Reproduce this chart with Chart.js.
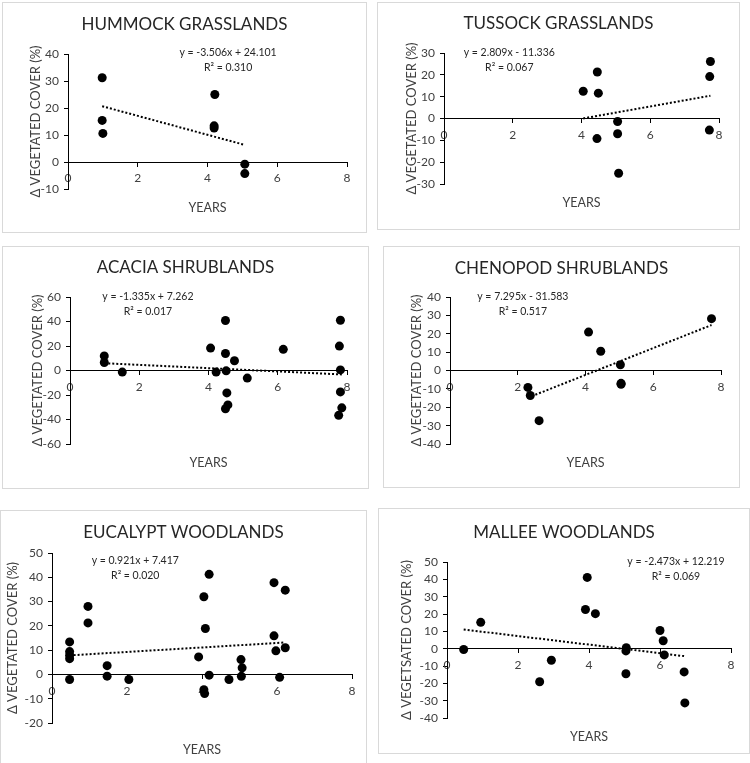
<!DOCTYPE html>
<html>
<head>
<meta charset="utf-8">
<script src="https://cdn.jsdelivr.net/npm/chart.js@4.4.1/dist/chart.umd.min.js"></script>
<style>
  html, body { margin: 0; padding: 0; background: #fff; }
  body { width: 750px; height: 763px; position: relative; overflow: hidden; }
  .panel { position: absolute; box-sizing: border-box; border: 1px solid #d9d9d9; background: #fff; }
  .panel canvas { display: block; }
</style>
</head>
<body>
<script>
// chart titles and axis labels
const titles = ['HUMMOCK GRASSLANDS', 'TUSSOCK GRASSLANDS', 'ACACIA SHRUBLANDS',
  'CHENOPOD SHRUBLANDS', 'EUCALYPT WOODLANDS', 'MALLEE WOODLANDS'];
const yTitles = ['Δ VEGETATED COVER (%)', 'Δ VEGETATED COVER (%)', 'Δ VEGETATED COVER (%)',
  'Δ VEGETATED COVER (%)', 'Δ VEGETATED COVER (%)', 'Δ VEGETSATED COVER (%)'];
const xTitle = 'YEARS';

// axis ticks
const xTicks = [0, 2, 4, 6, 8];
const yMin = [-10, -30, -60, -40, -20, -40];
const yMax = [40, 30, 60, 40, 50, 50];
const yStep = [10, 10, 20, 10, 10, 10];

// trendline equations shown on each chart
const slopes = [-3.506, 2.809, -1.335, 7.295, 0.921, -2.473];
const intercepts = [24.101, -11.336, 7.262, -31.583, 7.417, 12.219];
const rSquared = ['0.310', '0.067', '0.017', '0.517', '0.020', '0.069'];

// points: years vs change in vegetated cover
const hummockYears = [0.98, 0.98, 1.0, 4.21, 4.19, 4.19, 5.07, 5.07];
const hummockCover = [31.2, 15.4, 10.6, 25.0, 13.4, 12.6, -0.8, -4.3];

const tussockYears = [4.05, 4.46, 4.49, 4.45, 5.05, 5.05, 5.08, 7.75, 7.73, 7.72];
const tussockCover = [12.5, 21.3, 11.6, -9.2, -1.4, -7.0, -25.1, 26.1, 19.2, -5.3];

const acaciaYears = [0.99, 0.99, 1.51, 4.06, 4.22, 4.49, 4.49, 4.51, 4.75, 4.53,
  4.56, 4.49, 5.12, 6.16, 7.81, 7.78, 7.81, 7.81, 7.85, 7.76];
const acaciaCover = [11.9, 6.5, -1.3, 18.3, -1.3, 40.8, 13.9, -0.3, 8.0, -18.3,
  -28.1, -31.2, -6.2, 17.3, 41.0, 19.9, 0.5, -17.5, -30.5, -36.6];

const chenopodYears = [2.30, 2.37, 2.63, 4.09, 4.45, 5.03, 5.05, 5.05, 7.72];
const chenopodCover = [-9.2, -13.6, -27.3, 20.9, 10.5, 3.1, -7.0, -7.5, 28.2];

const eucalyptYears = [0.47, 0.47, 0.47, 0.47, 0.47, 0.96, 0.96, 1.47, 1.47, 2.05,
  3.91, 4.05, 4.09, 4.19, 4.05, 4.07, 4.19, 4.72, 5.04, 5.07, 5.05,
  5.92, 5.92, 5.97, 6.07, 6.22, 6.22];
const eucalyptCover = [13.4, 9.4, 7.9, 6.5, -2.1, 28.0, 21.2, 3.6, -0.7, -2.1,
  7.2, 32.0, 18.9, 41.2, -6.3, -7.9, -0.3, -2.1, 6.1, 2.7, -0.8,
  37.8, 15.9, 9.7, -1.2, 34.7, 11.0];

const malleeYears = [0.47, 0.95, 2.61, 2.94, 3.90, 3.95, 4.18, 5.05, 5.04, 5.04,
  6.0, 6.09, 6.12, 6.68, 6.70];
const malleeCover = [-0.5, 15.2, -19.1, -6.7, 22.6, 41.1, 20.2, 0.6, -1.3, -14.5,
  10.5, 4.6, -3.6, -13.4, -31.3];

const seriesYears = [hummockYears, tussockYears, acaciaYears, chenopodYears, eucalyptYears, malleeYears];
const seriesCover = [hummockCover, tussockCover, acaciaCover, chenopodCover, eucalyptCover, malleeCover];

// page layout (pixels): panel box, plot area, title / axis title centres, equation anchor (data units)
const panels = [
  { box: [2, 2, 365, 231],   plot: [68, 54, 347, 197],   titleY: 25,  yTitleX: 36,  xTitleY: 208, eq: [4.59, 40.7] },
  { box: [377, 2, 363, 228], plot: [444, 53, 719, 192],  titleY: 24,  yTitleX: 412, xTitleY: 203, eq: [1.9, 30] },
  { box: [2, 246, 367, 243], plot: [70, 297, 347, 452],  titleY: 268, yTitleX: 38,  xTitleY: 463, eq: [2.25, 60] },
  { box: [383, 246, 357, 242], plot: [450, 297, 721, 452], titleY: 269, yTitleX: 417, xTitleY: 463, eq: [2.15, 40] },
  { box: [0, 510, 367, 254], plot: [52, 553, 352, 731],  titleY: 533, yTitleX: 13,  xTitleY: 750, eq: [2.22, 46.7] },
  { box: [378, 508, 372, 246], plot: [447, 562, 731, 726], titleY: 533, yTitleX: 407, xTitleY: 737, eq: [6.45, 50] }
];

const TITLE_SIZE = 17;
const Y_TITLE_SIZE = 13;
const X_TITLE_SIZE = 12.5;
const TICK_SIZE = 12;
const EQ_SIZE = 10.5;

Chart.defaults.font.family = 'Lato';
Chart.defaults.color = '#404040';

const trendLabel = {
  id: 'trendLabel',
  afterDatasetsDraw(chart, args, opts) {
    const { ctx, scales: { x, y } } = chart;
    const px = x.getPixelForValue(opts.at[0]);
    const py = y.getPixelForValue(opts.at[1]);
    ctx.save();
    ctx.font = EQ_SIZE + 'px Lato';
    ctx.fillStyle = '#262626';
    ctx.textAlign = 'center';
    ctx.textBaseline = 'middle';
    ctx.fillText(opts.lines[0], px, py);
    ctx.fillText(opts.lines[1], px, py + 15);
    ctx.restore();
  }
};

function equationText(i) {
  const b = intercepts[i];
  return 'y = ' + slopes[i].toFixed(3) + 'x ' + (b < 0 ? '- ' : '+ ') + Math.abs(b).toFixed(3);
}

panels.forEach((p, i) => {
  const div = document.createElement('div');
  div.className = 'panel';
  div.style.left = p.box[0] + 'px';
  div.style.top = p.box[1] + 'px';
  div.style.width = p.box[2] + 'px';
  div.style.height = p.box[3] + 'px';
  const canvas = document.createElement('canvas');
  const w = p.box[2] - 2, h = p.box[3] - 2;
  const ox = p.box[0] + 1, oy = p.box[1] + 1;
  canvas.width = w;
  canvas.height = h;
  canvas.style.width = w + 'px';
  canvas.style.height = h + 'px';
  div.appendChild(canvas);
  document.body.appendChild(div);

  const [L, T, R, B] = p.plot;
  const tLh = TITLE_SIZE * 1.2;
  const yLh = Y_TITLE_SIZE * 1.2;
  const xLh = X_TITLE_SIZE * 1.2;
  const titleTop = p.titleY - oy - tLh / 2;
  const titleBottom = (T - oy) - tLh - titleTop;
  const xTitleBottom = (oy + h) - p.xTitleY - xLh / 2;
  const xTitleTop = (oy + h - B) - xLh - xTitleBottom;
  const yWidth = L - ox;
  const yTitleTop = Math.max(p.yTitleX - ox - yLh / 2, 0);
  const rightWidth = (ox + w) - R;

  const xs = seriesYears[i];
  const ys = seriesCover[i];
  const x0 = Math.min(...xs), x1 = Math.max(...xs);

  new Chart(canvas.getContext('2d'), {
    type: 'scatter',
    data: {
      datasets: [{
        data: xs.map((x, k) => ({ x: x, y: ys[k] })),
        backgroundColor: '#000',
        borderWidth: 0,
        pointRadius: 4.5,
        pointHoverRadius: 4.5,
        xAxisID: 'x',
        yAxisID: 'y',
        order: 0
      }, {
        type: 'line',
        data: [{ x: x0, y: slopes[i] * x0 + intercepts[i] }, { x: x1, y: slopes[i] * x1 + intercepts[i] }],
        borderColor: '#000',
        borderWidth: 2,
        borderDash: [2, 2],
        pointRadius: 0,
        fill: false,
        xAxisID: 'x',
        yAxisID: 'y',
        order: 1
      }]
    },
    options: {
      responsive: false,
      animation: false,
      devicePixelRatio: 1,
      events: [],
      layout: { padding: 0 },
      plugins: {
        legend: { display: false },
        tooltip: { enabled: false },
        title: {
          display: true,
          text: titles[i],
          color: '#262626',
          font: { size: TITLE_SIZE, weight: 'normal' },
          padding: { top: titleTop, bottom: titleBottom }
        },
        trendLabel: {
          at: p.eq,
          lines: [equationText(i), 'R² = ' + rSquared[i]]
        }
      },
      scales: {
        x: {
          type: 'linear',
          axis: 'x',
          position: { y: 0 },
          min: xTicks[0],
          max: xTicks[xTicks.length - 1],
          afterBuildTicks: s => { s.ticks = xTicks.map(v => ({ value: v })); },
          ticks: { autoSkip: false, maxRotation: 0, font: { size: TICK_SIZE }, color: '#404040', padding: 5 },
          grid: { drawOnChartArea: false, color: '#000', tickLength: 4 },
          border: { display: true, color: '#000', width: 1 }
        },
        y: {
          type: 'linear',
          axis: 'y',
          position: 'left',
          min: yMin[i],
          max: yMax[i],
          ticks: { autoSkip: false, stepSize: yStep[i], font: { size: TICK_SIZE }, color: '#404040', padding: 5 },
          grid: { drawOnChartArea: false, color: '#000', tickLength: 4 },
          border: { display: true, color: '#000', width: 1 },
          title: {
            display: true,
            text: yTitles[i],
            color: '#404040',
            font: { size: Y_TITLE_SIZE },
            padding: { top: yTitleTop, bottom: 0 }
          },
          afterFit: s => { s.width = yWidth; }
        },
        x2: {
          type: 'linear',
          axis: 'x',
          position: 'bottom',
          display: true,
          ticks: { display: false },
          grid: { display: false },
          border: { display: false },
          title: {
            display: true,
            text: xTitle,
            color: '#404040',
            font: { size: X_TITLE_SIZE },
            padding: { top: xTitleTop, bottom: xTitleBottom }
          }
        },
        y2: {
          type: 'linear',
          axis: 'y',
          position: 'right',
          display: true,
          ticks: { display: false },
          grid: { display: false },
          border: { display: false },
          afterFit: s => { s.width = rightWidth; }
        }
      }
    },
    plugins: [trendLabel]
  });
});
</script>
</body>
</html>
